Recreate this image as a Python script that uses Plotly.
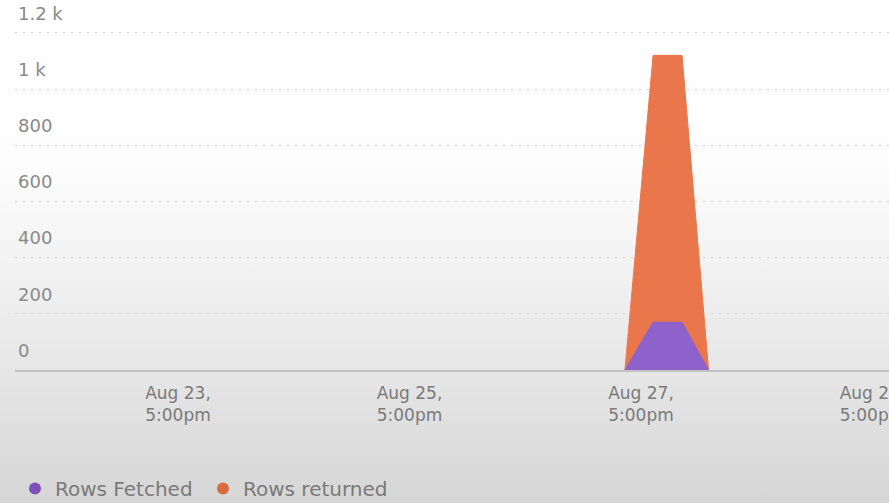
import base64
import plotly.graph_objects as go

# Time buckets and row counts
times = ["2023-08-27 13:40", "2023-08-27 19:30", "2023-08-28 01:30", "2023-08-28 07:00"]
rows_fetched = [0, 170, 170, 0]
rows_returned = [0, 1120, 1120, 0]

# Axis ticks
x_tick_vals = ["2023-08-23 17:00", "2023-08-25 17:00", "2023-08-27 17:00", "2023-08-29 17:00"]
x_tick_text = ["Aug 23,<br>5:00pm", "Aug 25,<br>5:00pm", "Aug 27,<br>5:00pm", "Aug 29,<br>5:00pm"]
y_tick_vals = [0, 200, 400, 600, 800, 1000, 1200]
y_tick_text = ["0", "200", "400", "600", "800", "1 k", "1.2 k"]

FONT = "DejaVu Sans"
ORANGE = "#e9774b"
PURPLE = "#8e62ca"

fig = go.Figure()

fig.add_trace(go.Scatter(
    x=times, y=rows_returned, mode="lines", fill="tozeroy",
    line=dict(color=ORANGE, width=1), fillcolor=ORANGE,
    name="Rows returned", showlegend=False, hoverinfo="skip",
))
fig.add_trace(go.Scatter(
    x=times, y=rows_fetched, mode="lines", fill="tozeroy",
    line=dict(color=PURPLE, width=1), fillcolor=PURPLE,
    name="Rows Fetched", showlegend=False, hoverinfo="skip",
))

# Legend entries drawn as round dots
fig.add_trace(go.Scatter(
    x=[None], y=[None], mode="markers", name="Rows Fetched",
    marker=dict(color="#7f4fbb", size=11, symbol="circle"),
))
fig.add_trace(go.Scatter(
    x=[None], y=[None], mode="markers", name="Rows returned",
    marker=dict(color="#dc6a40", size=11, symbol="circle"),
))

# Soft white-to-grey backdrop behind the whole chart
svg = (
    '<svg xmlns="http://www.w3.org/2000/svg" width="10" height="100" preserveAspectRatio="none">'
    '<defs><linearGradient id="g" x1="0" y1="0" x2="0" y2="1">'
    '<stop offset="0" stop-color="#ffffff"/>'
    '<stop offset="0.33" stop-color="#fdfdfd"/>'
    '<stop offset="0.55" stop-color="#f1f1f1"/>'
    '<stop offset="0.74" stop-color="#e6e6e6"/>'
    '<stop offset="1" stop-color="#d6d6d6"/>'
    '</linearGradient></defs>'
    '<rect width="10" height="100" fill="url(#g)"/></svg>'
)
svg_uri = "data:image/svg+xml;base64," + base64.b64encode(svg.encode()).decode()

W, H = 889, 503
ML, MR, MT, MB = 15, 0, 0, 133
pw, ph = W - ML - MR, H - MT - MB

fig.add_layout_image(dict(
    source=svg_uri, xref="paper", yref="paper",
    x=-ML / pw, y=1 + MT / ph, sizex=W / pw, sizey=H / ph,
    xanchor="left", yanchor="top", sizing="stretch", layer="below",
))

fig.update_layout(
    width=W, height=H,
    margin=dict(l=ML, r=MR, t=MT, b=MB, pad=0, autoexpand=False),
    paper_bgcolor="white", plot_bgcolor="rgba(0,0,0,0)",
    font=dict(family=FONT, size=16, color="#777777"),
    showlegend=True,
    legend=dict(
        orientation="h", x=0, xanchor="left", y=-0.32, yanchor="middle",
        font=dict(family=FONT, size=20, color="#7a7a7a"),
        bgcolor="rgba(0,0,0,0)", itemsizing="constant",
        entrywidth=143, entrywidthmode="pixels",
    ),
    xaxis=dict(
        type="date",
        range=["2023-08-22 07:12", "2023-08-29 20:25"],
        tickvals=x_tick_vals, ticktext=x_tick_text,
        showgrid=False, zeroline=False,
        showline=True, linecolor="#c3c3c3", linewidth=1.5,
        ticks="", ticklabeloverflow="allow", automargin=False,
        ticklabelstandoff=7,
        tickfont=dict(family=FONT, size=17, color="#7a7a7a"),
        fixedrange=True,
    ),
    yaxis=dict(
        range=[0, 1317],
        tickvals=y_tick_vals, ticktext=y_tick_text,
        ticklabelposition="inside top", ticklabelshift=-7, automargin=False,
        ticklabeloverflow="allow",
        showgrid=True, gridcolor="#d2d2d2", gridwidth=1, griddash="2px,6px",
        zeroline=False, showline=False, ticks="",
        tickfont=dict(family=FONT, size=18, color="#8a8a8a"),
        fixedrange=True,
    ),
)

fig.write_html("out.html")
